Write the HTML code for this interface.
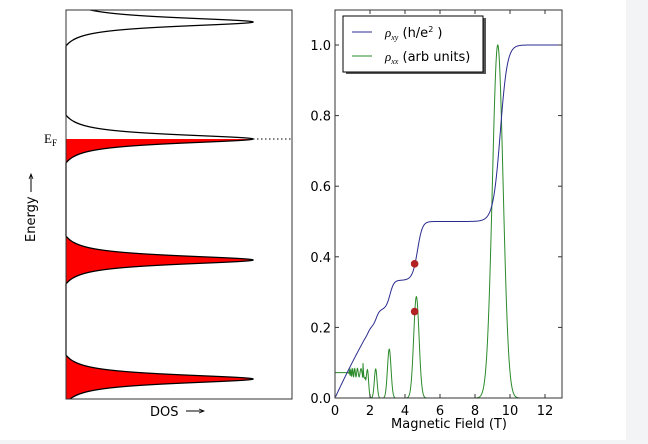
<!DOCTYPE html>
<html><head><meta charset="utf-8"><style>
body{margin:0;background:#fff}
svg{display:block;font-family:"DejaVu Sans","Liberation Sans",sans-serif}
</style></head><body>
<svg id="s" width="648" height="444" viewBox="0 0 648 444" xmlns="http://www.w3.org/2000/svg">
<rect x="0" y="0" width="648" height="444" fill="#fff"/>
<rect x="626" y="0" width="22" height="444" fill="#f3f4f6"/>
<rect x="0" y="440" width="648" height="4" fill="#f3f4f6"/>
<g id="left"></g>
<rect x="66" y="10" width="226" height="389" fill="none" stroke="#333" stroke-width="1"/>
<line x1="253" y1="139" x2="292" y2="139" stroke="#000" stroke-dasharray="1.5,2.5" stroke-width="1"/>
<text x="44" y="143" font-family="Liberation Serif,serif" font-size="13">E<tspan font-size="9" dy="3">F</tspan></text>
<text x="150" y="416" font-size="13">DOS</text>
<line x1="186" y1="411" x2="203" y2="411" stroke="#000" stroke-width="1"/><path d="M199,409 L204,411 L199,413" fill="none" stroke="#000" stroke-width="0.8"/>
<g transform="translate(35,242) rotate(-90)"><text x="0" y="0" font-size="13">Energy</text>
<line x1="50" y1="-4" x2="67" y2="-4" stroke="#000"/><path d="M63,-6 L68,-4 L63,-2" fill="none" stroke="#000" stroke-width="0.8"/></g>
<g id="right"></g>
<rect x="335" y="10" width="227" height="388" fill="none" stroke="#333" stroke-width="1"/>
<g id="ticks" stroke="#333" stroke-width="1"></g>
<g font-size="13" fill="#000" id="labels"></g>
<text x="449" y="428" font-size="13" text-anchor="middle">Magnetic Field (T)</text>
<rect x="346" y="18" width="140" height="56" fill="#555"/>
<rect x="343" y="16" width="140" height="56" fill="#fff" stroke="#000" stroke-width="1"/>
<line x1="352" y1="32" x2="372" y2="32" stroke="#2b2b8f"/>
<line x1="352" y1="56" x2="372" y2="56" stroke="#2a8a2a"/>
<text x="385" y="37" font-size="13"><tspan font-family="Liberation Serif,serif" font-style="italic">ρ<tspan font-size="8" dy="3">xy</tspan></tspan><tspan dy="-3"> (h/e</tspan><tspan font-size="8" dy="-5">2</tspan><tspan dy="5"> )</tspan></text>
<text x="385" y="61" font-size="13"><tspan font-family="Liberation Serif,serif" font-style="italic">ρ<tspan font-size="8" dy="3">xx</tspan></tspan><tspan dy="-3"> (arb units)</tspan></text>
</svg>
<script>
var NS="http://www.w3.org/2000/svg";
function el(p,t,a){var e=document.createElementNS(NS,t);for(var k in a)e.setAttribute(k,a[k]);p.appendChild(e);return e;}
var L=document.getElementById('left');
var W=5.5,CUT=24,C0=1/(1+Math.pow(CUT/W,2));
function pk(d){if(Math.abs(d)>=CUT)return 0;return (1/(1+(d/W)*(d/W))-C0)/(1-C0);}
var cs=[22,139,260,379];
function dos(y){var s=0;for(var i=0;i<cs.length;i++)s+=pk(y-cs[i]);return Math.min(s,1);}
[[139,165],[234,286],[353,399]].forEach(function(r){var d="M66,"+r[0];for(var y=r[0];y<=r[1];y+=0.25)d+=" L"+(66+187*dos(y)).toFixed(2)+","+y;d+=" L66,"+r[1]+"Z";el(L,'path',{d:d,fill:'#f00'});});
var d="";for(var y=10;y<=399;y+=0.25){d+=(y==10?"M":" L")+(66+187*dos(y)).toFixed(2)+","+y;}
el(L,'path',{d:d,fill:'none',stroke:'#000','stroke-width':1.3});
var R=document.getElementById('right');
function X(b){return 335+b*17.5;}function Y(v){return 398-v*353;}
function sig(x){return 1/(1+Math.exp(-x));}
function rxy(B){if(B<=0.001)return 0;var f=9.3/B;var w=0.022*Math.pow(f,1.5);var n=1;for(var k=1;k<300;k++)n+=sig((f-k)/w);return 1/n;}
function rxx(B){var s=0;for(var k=1;k<30;k++){var bk=9.3/k,sg=0.033*bk,h=Math.pow(bk/9.3,1.8);if(k>=5)h=0.07;s+=h*Math.exp(-Math.pow(B-bk,2)/(2*sg*sg));}
var bg=0.072*(1-sig((B-1.75)/0.06));var osc=B<1.75&&B>0.8?0.012*Math.sin(9.3/B*2*Math.PI)*sig((B-0.8)/0.08):0;return Math.max(0,bg+osc+(B>1.6?s:0));}
var d1="",d2="";for(var B=0;B<=13;B+=0.01){d1+=(B==0?"M":" L")+X(B).toFixed(2)+","+Y(rxy(B)).toFixed(2);d2+=(B==0?"M":" L")+X(B).toFixed(2)+","+Y(rxx(B)).toFixed(2);}
el(R,'path',{d:d2,fill:'none',stroke:'#2a8a2a','stroke-width':1});
el(R,'path',{d:d1,fill:'none',stroke:'#2b2b8f','stroke-width':1});
el(R,'circle',{cx:X(4.55),cy:Y(0.38),r:3.8,fill:'#b22222'});
el(R,'circle',{cx:X(4.55),cy:Y(0.245),r:3.8,fill:'#b22222'});
var T=document.getElementById('ticks'),Lb=document.getElementById('labels');
for(var b=0;b<=12;b+=2){el(T,'line',{x1:X(b),y1:398,x2:X(b),y2:394});el(T,'line',{x1:X(b),y1:10,x2:X(b),y2:14});var t=el(Lb,'text',{x:X(b),y:415,'text-anchor':'middle'});t.textContent=b;}
for(var i=0;i<=5;i++){var v=i*0.2;el(T,'line',{x1:335,y1:Y(v),x2:339,y2:Y(v)});el(T,'line',{x1:562,y1:Y(v),x2:558,y2:Y(v)});var t=el(Lb,'text',{x:331,y:Y(v)+5,'text-anchor':'end'});t.textContent=v.toFixed(1);}
</script>
</body></html>
